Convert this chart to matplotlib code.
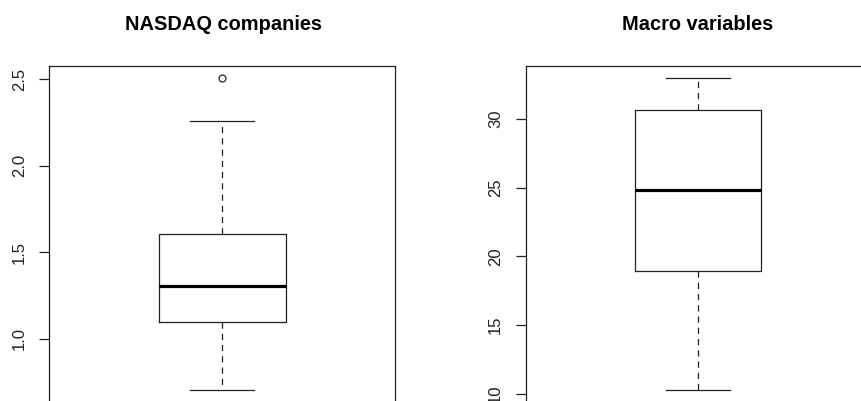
import matplotlib
matplotlib.use("Agg")
import matplotlib.pyplot as plt

plt.rcParams['font.family'] = ['Liberation Sans', 'DejaVu Sans']

# Panel titles
titles = ["NASDAQ companies", "Macro variables"]

# Box statistics
nasdaq_whislo, nasdaq_q1, nasdaq_med, nasdaq_q3, nasdaq_whishi = 0.706, 1.094, 1.305, 1.604, 2.258
nasdaq_fliers = [2.506]
macro_whislo, macro_q1, macro_med, macro_q3, macro_whishi = 10.3, 18.9, 24.8, 30.64, 32.97
macro_fliers = []

nasdaq_ticks = [1.0, 1.5, 2.0, 2.5]
macro_ticks = [10, 15, 20, 25, 30]

W, H = 861, 401
fig = plt.figure(figsize=(W / 100, H / 100), dpi=100)

def px_axes(left, top, width, bottom):
    return fig.add_axes([left / W, 1 - bottom / H, width / W, (bottom - top) / H])

ax1 = px_axes(49.3, 65.7, 346, 402)
ax2 = px_axes(525.7, 65.7, 344, 402)

panels = [
    (ax1, dict(whislo=nasdaq_whislo, q1=nasdaq_q1, med=nasdaq_med, q3=nasdaq_q3,
               whishi=nasdaq_whishi, fliers=nasdaq_fliers), nasdaq_ticks, ["1.0", "1.5", "2.0", "2.5"]),
    (ax2, dict(whislo=macro_whislo, q1=macro_q1, med=macro_med, q3=macro_q3,
               whishi=macro_whishi, fliers=macro_fliers), macro_ticks, [str(t) for t in macro_ticks]),
]

lc = "#222222"
for ax, st, ticks, tlabels in panels:
    ax.bxp([st], positions=[1], widths=[0.367], capwidths=[0.186], showfliers=True,
           boxprops=dict(color=lc, linewidth=0.9),
           medianprops=dict(color="black", linewidth=2.3, solid_capstyle="butt"),
           whiskerprops=dict(color=lc, linewidth=0.9, linestyle=(0, (5, 4))),
           capprops=dict(color=lc, linewidth=0.9),
           flierprops=dict(marker="o", markersize=5, markerfacecolor="none",
                           markeredgecolor=lc, markeredgewidth=0.9))
    vals = [st["whislo"], st["whishi"]] + list(st["fliers"])
    lo, hi = min(vals), max(vals)
    ext = (hi - lo) * 0.04
    ax.set_ylim(lo - ext, hi + ext)
    ax.set_xlim(0.5, 1.5)
    ax.set_xticks([])
    ax.set_yticks(ticks)
    ax.set_yticklabels(tlabels, rotation=90, va="center", fontsize=12, color="#222222")
    ax.tick_params(axis="y", length=7.2, width=0.9, color=lc, pad=9)
    for s in ax.spines.values():
        s.set_color(lc)
        s.set_linewidth(0.9)

fig.text(223.3 / W, 1 - 24 / H, titles[0], ha="center", va="center", fontsize=14.4, fontweight="bold")
fig.text(697.7 / W, 1 - 24 / H, titles[1], ha="center", va="center", fontsize=14.4, fontweight="bold")

fig.savefig("out.png", dpi=100)
